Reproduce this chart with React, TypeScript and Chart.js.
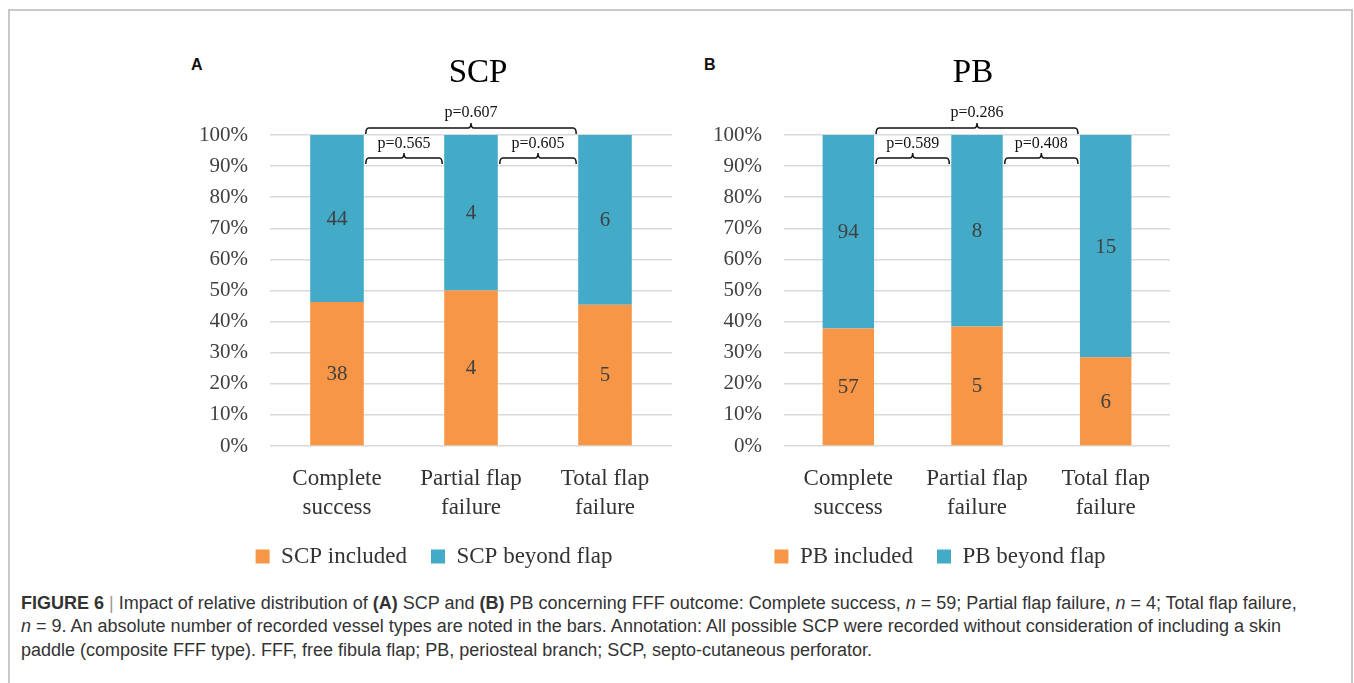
import React, { useEffect, useRef } from 'react';
import { Chart, registerables } from 'chart.js';
Chart.register(...registerables);

// ---- data ----
const categories = [['Complete', 'success'], ['Partial flap', 'failure'], ['Total flap', 'failure']];
const scpIncluded = [38, 4, 5];
const scpBeyond = [44, 4, 6];
const pbIncluded = [57, 5, 6];
const pbBeyond = [94, 8, 15];
const scpLegend = ['SCP included', 'SCP beyond flap'];
const pbLegend = ['PB included', 'PB beyond flap'];
const bracketPairs = [[0, 1], [1, 2], [0, 2]];
const bracketLevels = [90, 90, 100];
const scpPValues = ['p=0.565', 'p=0.605', 'p=0.607'];
const pbPValues = ['p=0.589', 'p=0.408', 'p=0.286'];

const ORANGE = '#F79646';
const BLUE = '#43ABC7';
const SERIF = '"Liberation Serif", "Times New Roman", serif';

const toPct = (a: number[], b: number[]) => a.map((v, i) => (v / (a[i] + b[i])) * 100);

const overlayPlugin = {
  id: 'overlay',
  afterDatasetsDraw(chart: any, _args: any, opts: any) {
    const ctx = chart.ctx;
    const yScale = chart.scales.y;
    ctx.save();
    // data labels
    chart.data.datasets.forEach((ds: any, di: number) => {
      const meta = chart.getDatasetMeta(di);
      meta.data.forEach((bar: any, i: number) => {
        const p = bar.getProps(['x', 'y', 'base'], true);
        ctx.font = '21px ' + SERIF;
        ctx.fillStyle = '#404040';
        ctx.textAlign = 'center';
        ctx.textBaseline = 'middle';
        ctx.fillText(String(ds.counts[i]), p.x, (p.y + p.base) / 2 + 1);
      });
    });
    // title
    ctx.font = '33px ' + SERIF;
    ctx.fillStyle = '#000';
    ctx.textAlign = 'center';
    ctx.textBaseline = 'alphabetic';
    ctx.fillText(opts.title, opts.titleX, opts.titleY);
    // brackets
    const meta0 = chart.getDatasetMeta(0);
    ctx.strokeStyle = '#111';
    ctx.lineWidth = 1.5;
    bracketPairs.forEach(([a, b], k) => {
      const ba = meta0.data[a];
      const bb = meta0.data[b];
      const x1 = ba.x + ba.width / 2 + 2;
      const x2 = bb.x - bb.width / 2 - 2;
      const level = bracketLevels[k];
      const yh = yScale.getPixelForValue(level) - (level === 100 ? 7 : 8);
      const xm = (x1 + x2) / 2;
      ctx.beginPath();
      ctx.moveTo(x1, yh + 6);
      ctx.quadraticCurveTo(x1, yh, x1 + 3, yh);
      ctx.lineTo(xm - 3, yh);
      ctx.quadraticCurveTo(xm, yh, xm, yh - 5);
      ctx.quadraticCurveTo(xm, yh, xm + 3, yh);
      ctx.lineTo(x2 - 3, yh);
      ctx.quadraticCurveTo(x2, yh, x2, yh + 6);
      ctx.stroke();
      ctx.font = '16px ' + SERIF;
      ctx.fillStyle = '#111';
      ctx.textBaseline = 'alphabetic';
      ctx.fillText(opts.pvalues[k], xm, yh - (level === 100 ? 11 : 10));
    });
    ctx.restore();
  },
};

function StackChart(props: {
  included: number[];
  beyond: number[];
  legend: string[];
  title: string;
  titleX: number;
  pvalues: string[];
  left: number;
  width: number;
}) {
  const ref = useRef<HTMLCanvasElement>(null);
  useEffect(() => {
    const canvas = ref.current!;
    const chart = new Chart(canvas, {
      type: 'bar',
      data: {
        labels: categories as any,
        datasets: [
          {
            label: props.legend[0],
            data: toPct(props.included, props.beyond),
            counts: props.included,
            backgroundColor: ORANGE,
            borderWidth: 0,
          } as any,
          {
            label: props.legend[1],
            data: toPct(props.beyond, props.included),
            counts: props.beyond,
            backgroundColor: BLUE,
            borderWidth: 0,
          } as any,
        ],
      },
      options: {
        responsive: false,
        animation: false,
        devicePixelRatio: 1,
        layout: { padding: { top: 95, right: 20, left: 0, bottom: 0 } },
        datasets: { bar: { categoryPercentage: 1, barPercentage: 0.4 } },
        scales: {
          x: {
            stacked: true,
            grid: { display: false },
            border: { display: false },
            ticks: {
              font: { family: SERIF, size: 23, lineHeight: 1.27 },
              color: '#333',
              padding: 10,
              maxRotation: 0,
              autoSkip: false,
            },
            afterFit: (s: any) => {
              s.height = 75;
            },
          },
          y: {
            stacked: true,
            min: 0,
            max: 100,
            grid: { color: '#d9d9d9', lineWidth: 1.5, drawTicks: false },
            border: { display: false },
            ticks: {
              stepSize: 10,
              font: { family: SERIF, size: 21 },
              color: '#404040',
              padding: 22,
              callback: (v: any) => v + '%',
            },
            afterFit: (s: any) => {
              s.width = 74;
            },
          },
        },
        plugins: {
          legend: {
            position: 'bottom',
            labels: {
              font: { family: SERIF, size: 23 },
              color: '#333',
              boxWidth: 14,
              boxHeight: 14,
              padding: 24,
            },
          },
          tooltip: { enabled: false },
          overlay: { title: props.title, titleX: props.titleX, titleY: 42, pvalues: props.pvalues },
        } as any,
      },
      plugins: [overlayPlugin],
    });
    return () => chart.destroy();
  }, []);
  return (
    <canvas
      ref={ref}
      width={props.width}
      height={538}
      style={{ position: 'absolute', left: props.left, top: 40, width: props.width, height: 538 }}
    />
  );
}

export default function App() {
  const letter: React.CSSProperties = {
    position: 'absolute',
    top: 56,
    fontFamily: '"Liberation Sans", Arial, sans-serif',
    fontWeight: 'bold',
    fontSize: 16,
    color: '#111',
  };
  const capLine: React.CSSProperties = {
    position: 'absolute',
    left: 21,
    whiteSpace: 'nowrap',
    fontFamily: '"Liberation Sans", Arial, sans-serif',
    fontSize: 18,
    color: '#333',
    lineHeight: '20px',
  };
  return (
    <div style={{ position: 'relative', width: 1354, height: 683, overflow: 'hidden', background: '#fff' }}>
      <style>{'body{margin:0}'}</style>
      <div
        style={{
          position: 'absolute',
          left: 8,
          top: 9,
          width: 1345,
          height: 700,
          border: '2px solid #c8c8c8',
          boxSizing: 'border-box',
        }}
      />
      <span style={{ ...letter, left: 191 }}>A</span>
      <span style={{ ...letter, left: 704 }}>B</span>
      <StackChart
        included={scpIncluded}
        beyond={scpBeyond}
        legend={scpLegend}
        title="SCP"
        titleX={282}
        pvalues={scpPValues}
        left={196}
        width={496}
      />
      <StackChart
        included={pbIncluded}
        beyond={pbBeyond}
        legend={pbLegend}
        title="PB"
        titleX={263}
        pvalues={pbPValues}
        left={710}
        width={480}
      />
      <div style={{ ...capLine, top: 593 }}>
        <b>FIGURE 6</b> <span style={{ color: '#999' }}>|</span> Impact of relative distribution of <b>(A)</b> SCP and{' '}
        <b>(B)</b> PB concerning FFF outcome: Complete success, <i>n</i> = 59; Partial flap failure, <i>n</i> = 4; Total
        flap failure,
      </div>
      <div style={{ ...capLine, top: 616 }}>
        <i>n</i> = 9. An absolute number of recorded vessel types are noted in the bars. Annotation: All possible SCP
        were recorded without consideration of including a skin
      </div>
      <div style={{ ...capLine, top: 640 }}>
        paddle (composite FFF type). FFF, free fibula flap; PB, periosteal branch; SCP, septo-cutaneous perforator.
      </div>
    </div>
  );
}
